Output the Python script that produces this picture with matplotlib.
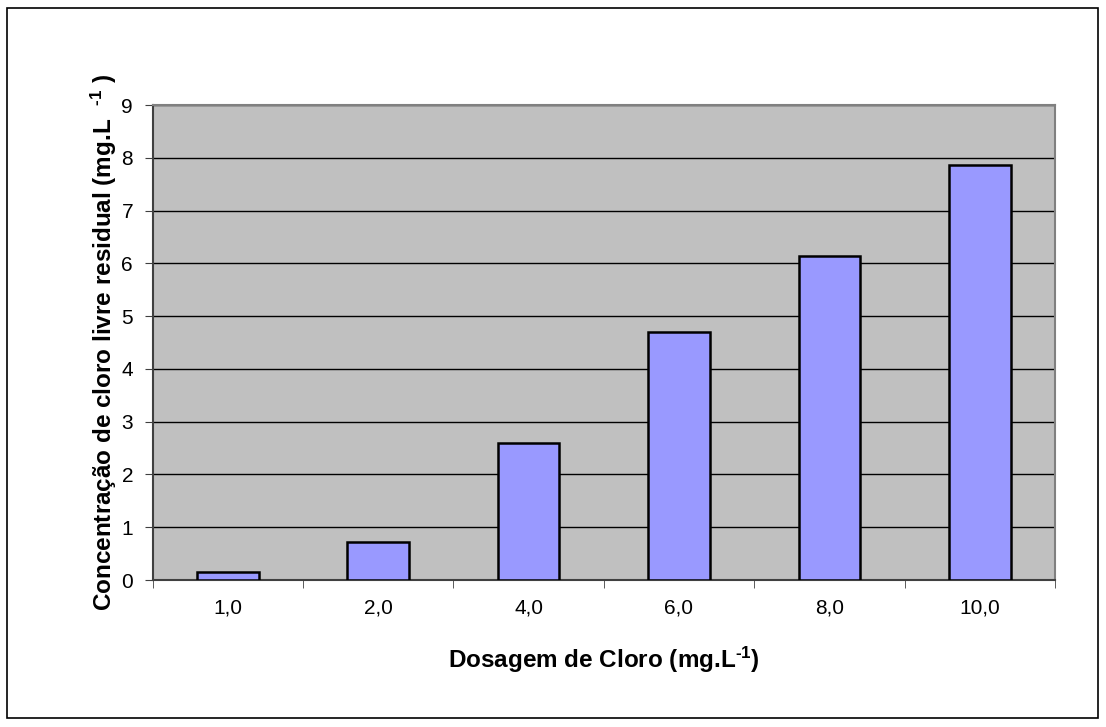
import matplotlib
matplotlib.use("Agg")
from matplotlib import pyplot as plt
from matplotlib.patches import Rectangle
import numpy as np

# dados
dosagem = ["1,0", "2,0", "4,0", "6,0", "8,0", "10,0"]
cloro_residual = [0.15, 0.72, 2.60, 4.70, 6.14, 7.86]
y_ticks = list(range(0, 10))

plt.rcParams["font.family"] = ["Liberation Sans", "DejaVu Sans"]
# mathtext em Liberation Sans negrito, para o expoente "-1" com hífen
plt.rcParams["mathtext.fontset"] = "custom"
plt.rcParams["mathtext.rm"] = "Liberation Sans:bold"
plt.rcParams["mathtext.bf"] = "Liberation Sans:bold"
plt.rcParams["mathtext.default"] = "rm"

fig = plt.figure(figsize=(11.06, 7.27), dpi=100)
# moldura externa do gráfico
fig.patches.append(Rectangle((7 / 1106, 1 - 718 / 727), 1091 / 1106, 710 / 727,
                             transform=fig.transFigure, fill=False,
                             edgecolor="black", linewidth=1.2))

ax = fig.add_axes([152.5 / 1106, 1 - 580 / 727, (1055 - 152.5) / 1106, (580 - 105) / 727])
ax.set_facecolor("#C0C0C0")

x = np.arange(len(dosagem))
ax.bar(x, cloro_residual, width=0.41, color="#9999FF", edgecolor="black",
       linewidth=1.8, zorder=3)

ax.set_xlim(-0.5, len(dosagem) - 0.5)
ax.set_ylim(0, 9)
ax.set_yticks(y_ticks)
ax.set_yticklabels([str(v) for v in y_ticks], fontsize=15)
ax.yaxis.grid(True, color="black", linewidth=1.0, zorder=1)
ax.set_axisbelow(True)

# rótulos nas categorias, marcas entre categorias
ax.set_xticks(x)
ax.set_xticklabels(dosagem, fontsize=15)
ax.tick_params(axis="x", length=0, pad=13)
ax.set_xticks(np.arange(-0.5, len(dosagem)), minor=True)
ax.tick_params(axis="x", which="minor", length=6, color="#404040", direction="out")
ax.tick_params(axis="y", length=6, color="#404040", pad=8)

for side in ["top", "right"]:
    ax.spines[side].set_color("#808080")
    ax.spines[side].set_linewidth(1.5)
ax.spines["left"].set_color("#404040")
ax.spines["bottom"].set_color("#404040")
ax.spines["left"].set_linewidth(1.5)
ax.spines["bottom"].set_linewidth(1.5)

ax.set_xlabel("Dosagem de Cloro (mg.L$^{\\text{-1}}$)", fontsize=17.5,
              fontweight="bold", labelpad=20)
ax.set_ylabel("Concentração de cloro livre residual (mg.L  $^{\\text{-1}}$ )",
              fontsize=17.5, fontweight="bold", labelpad=2)

fig.savefig("out.png", dpi=100)
